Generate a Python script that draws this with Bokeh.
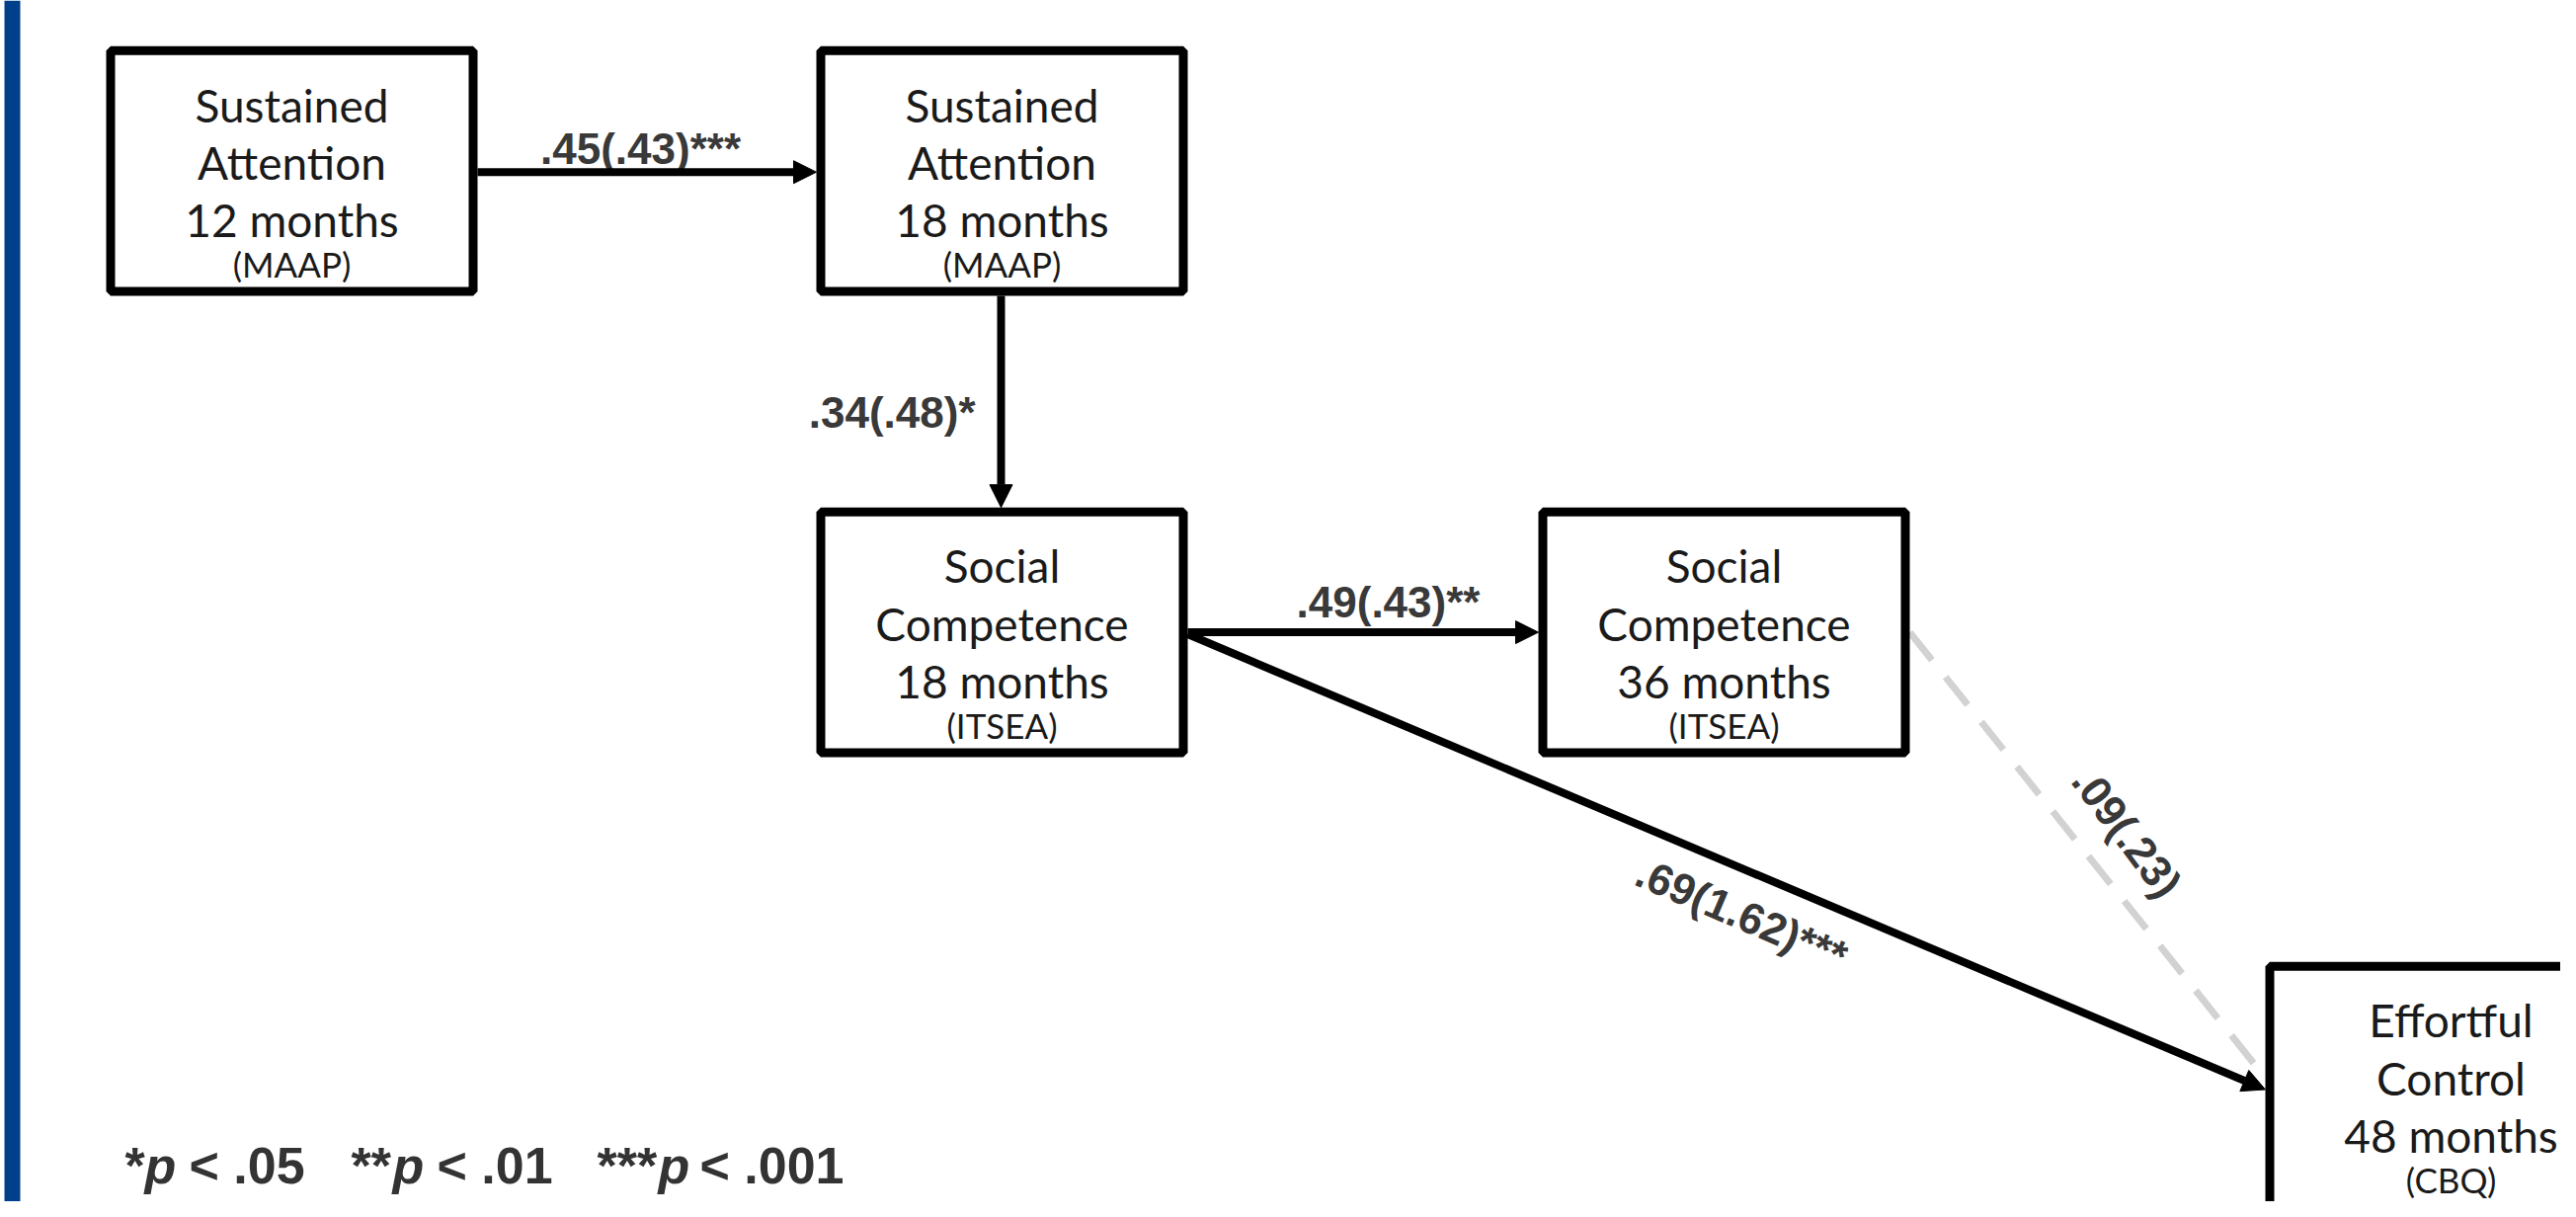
from bokeh.plotting import figure
from bokeh.models import Range1d, Arrow, NormalHead
from bokeh.core.properties import value
from bokeh.embed import file_html
from bokeh.resources import INLINE
import math

# ---------------- data ----------------
node_ids = ["sa12", "sa18", "sc18", "sc36", "ec48"]
node_line1 = ["Sustained", "Sustained", "Social", "Social", "Effortful"]
node_line2 = ["Attention", "Attention", "Competence", "Competence", "Control"]
node_line3 = ["12 months", "18 months", "18 months", "36 months", "48 months"]
node_measure = ["(MAAP)", "(MAAP)", "(ITSEA)", "(ITSEA)", "(CBQ)"]

edge_from = ["sa12", "sa18", "sc18", "sc18", "sc36"]
edge_to = ["sa18", "sc18", "sc36", "ec48", "ec48"]
edge_beta = [".45", ".34", ".49", ".69", ".09"]
edge_b = [".43", ".48", ".43", "1.62", ".23"]
edge_stars = ["***", "*", "**", "***", ""]
edge_significant = [True, True, True, True, False]

sig_stars = ["*", "**", "***"]
sig_p = [".05", ".01", ".001"]

# ---------------- layout (pixel space of the reference picture) ----------------
W, H, BORDER = 376, 256, 9
node_pos = {"sa12": (107, 47), "sa18": (826, 47), "sc18": (826, 520),
            "sc36": (1557, 520), "ec48": (2293, 986)}
edge_ports = [
    (("right", 129), ("left", 129)),
    (("bottom", 187), ("top", 187)),
    (("right", 128), ("left", 128)),
    (("right", 130), ("left", 131)),
    (("right", 128), ("left", 119)),
]
label_layout = [  # x, y, align, baseline, angle(deg)
    (648, 152, "center", "alphabetic", 0),
    (987, 422, "right", "alphabetic", 0),
    (1405, 617, "center", "alphabetic", 0),
    (1763, 937, "center", "middle", -23.1),
    (2153, 853, "center", "middle", -53.0),
]
line_offsets = [60, 119, 178, 223]


def port(node, side, off):
    L, T = node_pos[node]
    if side == "right":
        return L + W, T + off
    if side == "left":
        return L, T + off
    if side == "top":
        return L + off, T
    return L + off, T + H


p = figure(width=2592, height=1216, x_range=Range1d(0, 2592), y_range=Range1d(1232, 0),
           output_backend="svg", toolbar_location=None, min_border=0)
p.axis.visible = False
p.grid.visible = False
p.outline_line_color = None
p.background_fill_color = "white"

# left blue bar
p.quad(left=[4], right=[20], top=[0], bottom=[1240], fill_color="#023f8b", line_color=None)

# edges
for i, (f, t) in enumerate(zip(edge_from, edge_to)):
    (s_side, s_off), (t_side, t_off) = edge_ports[i]
    x0, y0 = port(f, s_side, s_off)
    x1, y1 = port(t, t_side, t_off)
    if edge_significant[i]:
        p.add_layout(Arrow(end=NormalHead(size=23, fill_color="black", line_color="black", line_width=1),
                           x_start=x0, y_start=y0, x_end=x1, y_end=y1,
                           line_color="black", line_width=8))
    else:
        p.segment(x0=[x0], y0=[y0], x1=[x1], y1=[y1], line_color="#d2d2d2",
                  line_width=7, line_dash="36 22")

# nodes
lefts = [node_pos[n][0] for n in node_ids]
tops = [node_pos[n][1] for n in node_ids]
p.quad(left=[l + BORDER / 2 for l in lefts], right=[l + W - BORDER / 2 for l in lefts],
       top=[t + BORDER / 2 for t in tops], bottom=[t + H - BORDER / 2 for t in tops],
       fill_color="white", line_color="black", line_width=BORDER)
cx = [l + W / 2 for l in lefts]
for k, lines in enumerate([node_line1, node_line2, node_line3, node_measure]):
    p.text(x=cx, y=[t + line_offsets[k] for t in tops], text=lines,
           text_font=value("Lato"), text_font_size="35px" if k == 3 else "46px",
           text_align="center", text_baseline="alphabetic", text_color="#1a1a1a")

# coefficient labels
for i in range(len(edge_from)):
    x, y, al, bl, ang = label_layout[i]
    p.text(x=[x], y=[y], text=[f"{edge_beta[i]}({edge_b[i]}){edge_stars[i]}"],
           angle=[math.radians(ang)], text_font=value("Liberation Sans"),
           text_font_style="bold", text_font_size="44px", text_align=al,
           text_baseline=bl, text_color="#393939")

# significance note
star_x = [126, 355, 604]
p_x = [146, 397, 666]
rest_x = [191, 442, 708]
base_y = 1195
for k in range(len(sig_stars)):
    p.text(x=[star_x[k]], y=[base_y], text=[sig_stars[k]], text_font=value("Liberation Sans"),
           text_font_style="bold", text_font_size="52px", text_align="left",
           text_baseline="alphabetic", text_color="#333333")
    p.text(x=[p_x[k]], y=[base_y], text=["p"], text_font=value("Liberation Sans"),
           text_font_style="bold italic", text_font_size="52px", text_align="left",
           text_baseline="alphabetic", text_color="#333333")
    p.text(x=[rest_x[k]], y=[base_y], text=[f"< {sig_p[k]}"], text_font=value("Liberation Sans"),
           text_font_style="bold", text_font_size="52px", text_align="left",
           text_baseline="alphabetic", text_color="#333333")

open("out.html", "w").write(file_html(p, INLINE))
